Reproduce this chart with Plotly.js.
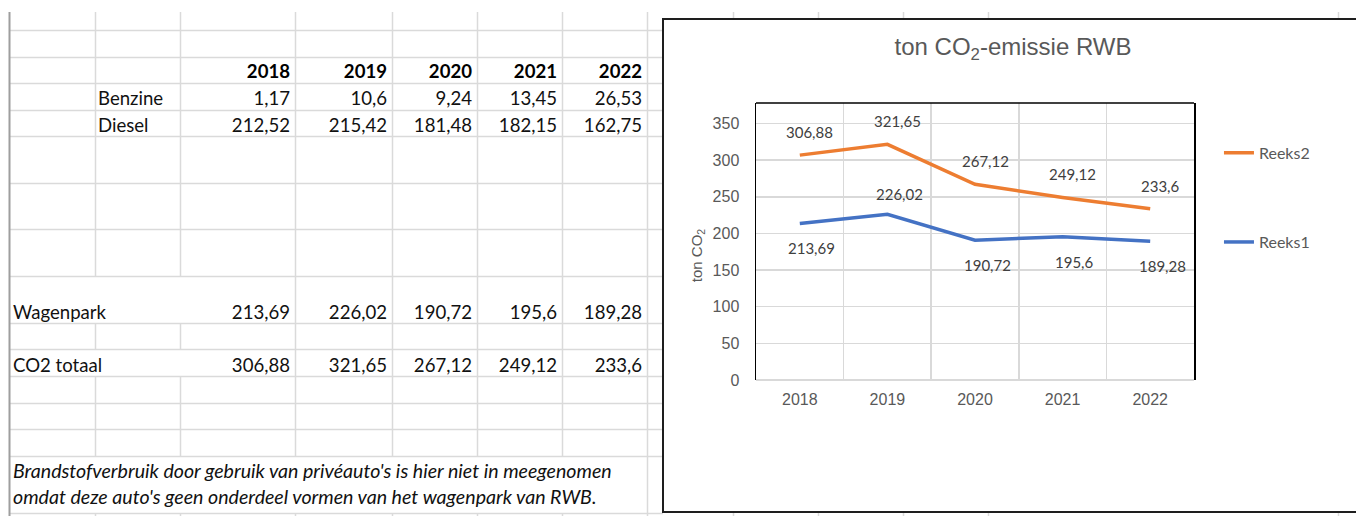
<!DOCTYPE html>
<html>
<head>
<meta charset="utf-8">
<script src="https://cdn.plot.ly/plotly-3.0.1.min.js"></script>
<style>
html,body{margin:0;padding:0;width:1356px;height:516px;overflow:hidden;background:#fff;}
#grid{position:absolute;left:0;top:0;}
.c{position:absolute;font-family:Lato,'Open Sans',sans-serif;font-size:18.6px;color:#111;height:24px;line-height:24px;white-space:nowrap;}
.b{font-weight:bold;color:#000;}
.i{font-style:italic;font-size:19.6px;}
#chart{position:absolute;left:663px;top:19px;width:720px;height:494px;background:#fff;}
#frame{position:absolute;left:662px;top:18px;width:760px;height:495px;box-sizing:border-box;border:2px solid #1e1e1e;pointer-events:none;}
</style>
</head>
<body>
<svg id="grid" width="1356" height="516"></svg>
<div id="cells"></div>
<div id="chart"></div>
<div id="frame"></div>
<script>
// ---- data ----
const years = ['2018', '2019', '2020', '2021', '2022'];
const benzine = [1.17, 10.6, 9.24, 13.45, 26.53];
const diesel = [212.52, 215.42, 181.48, 182.15, 162.75];
const wagenpark = [213.69, 226.02, 190.72, 195.6, 189.28];
const co2Totaal = [306.88, 321.65, 267.12, 249.12, 233.6];
const seriesNames = ['Reeks1', 'Reeks2'];
const rowLabels = ['Benzine', 'Diesel', 'Wagenpark', 'CO2 totaal'];
const noteLines = [
  "Brandstofverbruik door gebruik van privéauto's is hier niet in meegenomen",
  "omdat deze auto's geen onderdeel vormen van het wagenpark van RWB."
];
const chartTitle = 'ton CO<sub>2</sub>-emissie RWB';
const yTitle = 'ton CO<sub>2</sub>';

// ---- spreadsheet layout (pixels) ----
const colEdges = [9, 95, 180, 295, 392, 477, 562, 647];
const rowEdges = [30, 57, 83, 110, 136, 183, 229, 276, 323, 349, 376, 403, 429, 456, 513];
const gridTop = 12, gridBottom = 516, gridRight = 663;
const hidden = [
  {x: 95, y0: 276, y1: 323}, {x: 180, y0: 276, y1: 323},
  {x: 95, y0: 349, y1: 376}, {x: 180, y0: 349, y1: 376},
  {x: 95, y0: 456, y1: 513}, {x: 180, y0: 456, y1: 513}, {x: 295, y0: 456, y1: 513},
  {x: 392, y0: 456, y1: 513}, {x: 477, y0: 456, y1: 513}, {x: 562, y0: 456, y1: 513}
];
const stubXs = [733, 818, 903, 988, 1338];

const fmt = v => String(v).replace('.', ',');

(function drawGrid() {
  const svg = document.getElementById('grid');
  const ns = 'http://www.w3.org/2000/svg';
  function line(x0, y0, x1, y1, color, w) {
    const l = document.createElementNS(ns, 'line');
    l.setAttribute('x1', x0); l.setAttribute('y1', y0);
    l.setAttribute('x2', x1); l.setAttribute('y2', y1);
    l.setAttribute('stroke', color); l.setAttribute('stroke-width', w);
    svg.appendChild(l);
  }
  const gc = '#dadada';
  rowEdges.forEach(y => line(colEdges[0], y + 0.5, gridRight, y + 0.5, gc, 1.5));
  colEdges.slice(1).forEach(x => {
    const hs = hidden.filter(h => h.x === x).sort((a, b) => a.y0 - b.y0);
    let y = gridTop;
    hs.forEach(h => { line(x + 0.5, y, x + 0.5, h.y0, gc, 1.5); y = h.y1; });
    line(x + 0.5, y, x + 0.5, gridBottom, gc, 1.5);
  });
  stubXs.forEach(x => {
    line(x + 0.5, gridTop, x + 0.5, 19, gc, 1.5);
    line(x + 0.5, 513, x + 0.5, gridBottom, gc, 1.5);
  });
  line(colEdges[0] + 0.5, gridTop, colEdges[0] + 0.5, gridBottom, '#9e9e9e', 2);
})();

(function drawCells() {
  const host = document.getElementById('cells');
  function cell(text, x, yc, align, cls) {
    const d = document.createElement('div');
    d.className = 'c ' + (cls || '');
    d.textContent = text;
    d.style.top = (yc - 12) + 'px';
    if (align === 'right') d.style.right = (1356 - x) + 'px';
    else d.style.left = x + 'px';
    host.appendChild(d);
  }
  const valueRight = colEdges.slice(3).map(x => x - 5);
  years.forEach((y, i) => cell(y, valueRight[i], 71, 'right', 'b'));
  cell(rowLabels[0], 98, 98, 'left');
  benzine.forEach((v, i) => cell(fmt(v), valueRight[i], 98, 'right'));
  cell(rowLabels[1], 98, 125, 'left');
  diesel.forEach((v, i) => cell(fmt(v), valueRight[i], 125, 'right'));
  cell(rowLabels[2], 13, 312, 'left');
  wagenpark.forEach((v, i) => cell(fmt(v), valueRight[i], 312, 'right'));
  cell(rowLabels[3], 13, 365, 'left');
  co2Totaal.forEach((v, i) => cell(fmt(v), valueRight[i], 365, 'right'));
  cell(noteLines[0], 13, 471, 'left', 'i');
  cell(noteLines[1], 13, 497, 'left', 'i');
})();

// ---- chart ----
const orange = '#ED7D31', blue = '#4472C4';
const tickFont = {family: 'Liberation Sans, Arial, sans-serif', size: 16, color: '#595959'};
const labelFont = {family: 'Lato, sans-serif', size: 15, color: '#404040'};
const reeks1Side = ['below', 'above', 'below', 'below', 'below'];

const traces = [
  {x: years, y: wagenpark, name: seriesNames[0], type: 'scatter', mode: 'lines',
   line: {color: blue, width: 3.5}, legend: 'legend2', hoverinfo: 'skip'},
  {x: years, y: co2Totaal, name: seriesNames[1], type: 'scatter', mode: 'lines',
   line: {color: orange, width: 3.5}, legend: 'legend', hoverinfo: 'skip'}
];

// category positions on the x axis are addressed by index
const annotations = [];
co2Totaal.forEach((v, i) => annotations.push({
  x: i, y: v, xref: 'x', yref: 'y', text: fmt(v), showarrow: false,
  xshift: 10, yshift: 23, font: labelFont
}));
wagenpark.forEach((v, i) => annotations.push({
  x: i, y: v, xref: 'x', yref: 'y', text: fmt(v), showarrow: false,
  xshift: 12, yshift: reeks1Side[i] === 'above' ? 20 : -25, font: labelFont
}));
annotations.push({
  text: yTitle, xref: 'paper', yref: 'paper', x: -0.135, y: 0.45,
  textangle: -90, showarrow: false, xanchor: 'center', yanchor: 'middle',
  font: {family: 'Liberation Sans, Arial, sans-serif', size: 15, color: '#595959'}
});

const layout = {
  width: 720, height: 494,
  margin: {l: 93, r: 189, t: 84, b: 133, pad: 0},
  paper_bgcolor: '#fff', plot_bgcolor: '#fff',
  separators: ',.',
  showlegend: true,
  title: {text: chartTitle, xref: 'container', yref: 'container', x: 350 / 720, xanchor: 'center',
          y: 1 - 28 / 494, yanchor: 'middle',
          font: {family: 'Liberation Sans, Arial, sans-serif', size: 24, color: '#595959'}},
  xaxis: {type: 'category', categoryorder: 'array', categoryarray: years, range: [-0.5, 4.5],
          showgrid: true, gridcolor: '#d9d9d9', gridwidth: 1.5, tickson: 'boundaries',
          ticks: '', showline: false, zeroline: false, tickfont: tickFont, ticklabelstandoff: 8,
          fixedrange: true},
  yaxis: {range: [0, 378], tick0: 0, dtick: 50, showgrid: true, gridcolor: '#d9d9d9', gridwidth: 1.5,
          zeroline: true, zerolinecolor: '#d9d9d9', zerolinewidth: 1.5,
          showline: true, linecolor: '#000', linewidth: 1.5, mirror: true,
          ticks: '', tickfont: tickFont, ticklabelstandoff: 12, fixedrange: true},
  shapes: [{type: 'line', xref: 'paper', yref: 'paper', x0: 0, x1: 1, y0: 1, y1: 1,
            line: {color: '#000', width: 1.5}}],
  annotations: annotations,
  legend: {x: 1.057, y: 0.82, xanchor: 'left', yanchor: 'middle', bgcolor: 'rgba(0,0,0,0)',
           font: {family: 'Lato, sans-serif', size: 16, color: '#595959'}},
  legend2: {x: 1.057, y: 0.498, xanchor: 'left', yanchor: 'middle', bgcolor: 'rgba(0,0,0,0)',
            font: {family: 'Lato, sans-serif', size: 16, color: '#595959'}}
};

Plotly.newPlot('chart', traces, layout, {displayModeBar: false, staticPlot: true});
</script>
</body>
</html>
